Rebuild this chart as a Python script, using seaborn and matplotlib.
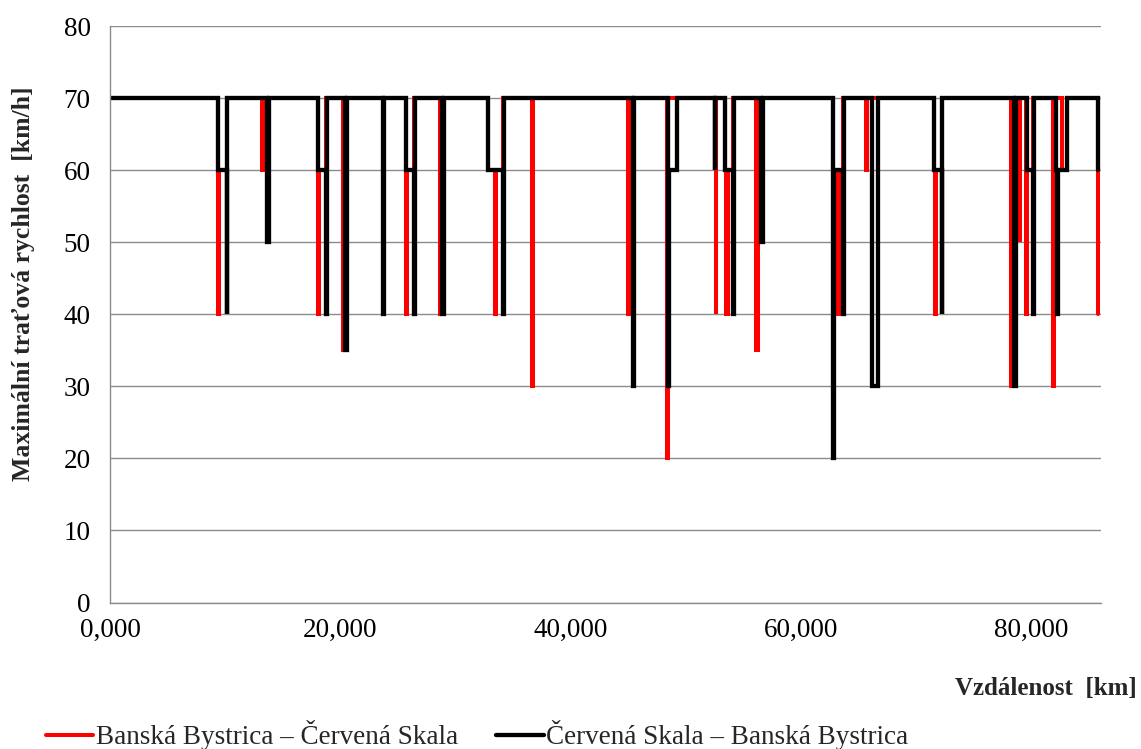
import matplotlib
matplotlib.use("Agg")
import matplotlib.pyplot as plt
import seaborn as sns
import pandas as pd

# speed profile, step breakpoints (km) and speed valid from that point (km/h)
red_km = [0.0,
          9.40, 9.50, 10.12,
          13.17, 13.25,
          18.07, 18.17, 18.76,
          20.22, 20.30,
          25.72, 25.82, 26.40,
          28.62, 28.70,
          32.85, 33.40, 33.48, 34.15,
          36.65, 36.73,
          44.98, 45.06,
          48.33, 48.41,
          52.58, 52.66,
          53.40, 53.52, 53.62, 54.12,
          56.12, 56.30,
          62.81, 63.20, 63.26, 63.68,
          65.62, 65.70,
          71.55, 71.60, 71.68, 72.22,
          78.20, 78.28,
          78.98, 79.06,
          79.58, 79.66, 80.17,
          81.86, 81.98,
          82.70, 83.14,
          85.82]
red_speed = [70,
             40, 60, 70,
             60, 70,
             40, 60, 70,
             35, 70,
             40, 60, 70,
             40, 70,
             60, 40, 60, 70,
             30, 70,
             40, 70,
             20, 70,
             40, 70,
             60, 40, 60, 70,
             35, 70,
             60, 40, 60, 70,
             60, 70,
             60, 40, 60, 70,
             30, 70,
             50, 70,
             40, 60, 70,
             30, 70,
             60, 70,
             40]

black_km = [0.0,
            9.42, 10.12, 10.17,
            13.62, 13.80,
            18.09, 18.76, 18.81,
            20.38, 20.56,
            23.69, 23.77,
            25.70, 26.40, 26.45,
            28.85, 29.03,
            32.85, 34.15, 34.20,
            45.38, 45.50,
            48.44, 48.52, 49.21,
            52.51, 52.57,
            53.40, 54.12, 54.17,
            56.50, 56.68,
            62.81, 62.86, 63.68, 63.73,
            66.14, 66.71,
            71.55, 72.22, 72.27,
            78.50, 78.68,
            79.60, 80.17, 80.22,
            82.12, 82.20, 82.28, 83.14,
            85.82]
black_speed = [70,
               60, 40, 70,
               50, 70,
               60, 40, 70,
               35, 70,
               40, 70,
               60, 40, 70,
               40, 70,
               60, 40, 70,
               30, 70,
               30, 60, 70,
               60, 70,
               60, 40, 70,
               50, 70,
               20, 60, 40, 70,
               30, 70,
               60, 40, 70,
               30, 70,
               60, 40, 70,
               60, 40, 60, 70,
               60]

series_names = ["Banská Bystrica – Červená Skala", "Červená Skala – Banská Bystrica"]
x_ticks = [0, 20, 40, 60, 80]
x_tick_labels = ["0,000", "20,000", "40,000", "60,000", "80,000"]
y_ticks = [0, 10, 20, 30, 40, 50, 60, 70, 80]

sns.set_style("white")
plt.rcParams["font.family"] = ["Liberation Serif", "DejaVu Serif"]

W, H = 1141, 749
fig = plt.figure(figsize=(W / 100, H / 100), dpi=100)
ax = fig.add_axes([110 / W, 1 - 602.5 / H, (1101 - 110) / W, (602.5 - 26) / H])

red_df = pd.DataFrame({"km": red_km, "speed": red_speed})
black_df = pd.DataFrame({"km": black_km, "speed": black_speed})

sns.lineplot(data=red_df, x="km", y="speed", ax=ax, color="#ff0000", linewidth=2.9,
             drawstyle="steps-post", estimator=None, sort=False,
             label=series_names[0], solid_joinstyle="miter", solid_capstyle="round")
sns.lineplot(data=black_df, x="km", y="speed", ax=ax, color="#000000", linewidth=3.1,
             drawstyle="steps-post", estimator=None, sort=False,
             label=series_names[1], solid_joinstyle="miter", solid_capstyle="round")

ax.set_xlim(0, 86.05)
ax.set_ylim(0, 80)
ax.set_xticks(x_ticks)
ax.set_xticklabels(x_tick_labels)
ax.set_yticks(y_ticks)
ax.set_xlabel("")
ax.set_ylabel("")

ax.grid(axis="y", color="#8c8c8c", linewidth=1.0)
ax.grid(axis="x", visible=False)
for side in ["top", "right"]:
    ax.spines[side].set_visible(False)
for side in ["left", "bottom"]:
    ax.spines[side].set_color("#8c8c8c")
    ax.spines[side].set_linewidth(1.0)
ax.tick_params(axis="both", direction="out", length=6, width=1.0, color="#8c8c8c",
               labelsize=19.5, labelcolor="black")
ax.tick_params(axis="y", pad=8)
ax.tick_params(axis="x", pad=5)

fig.text(1137 / W, 1 - 688 / H, "Vzdálenost  [km]", ha="right", va="center",
         fontsize=18, fontweight="bold")
fig.text(24 / W, 1 - 284 / H, "Maximální traťová rychlost  [km/h]", ha="center", va="center",
         rotation=90, fontsize=18.5, fontweight="bold")

handles, labels = ax.get_legend_handles_labels()
ax.get_legend().remove()
fig.legend(handles, labels, loc="center left", bbox_to_anchor=(46 / W, 1 - 735 / H),
           ncol=2, frameon=False, fontsize=19.5, handlelength=1.75, handletextpad=0.1,
           columnspacing=1.4, borderpad=0, borderaxespad=0)

fig.savefig("out.png", dpi=100)
